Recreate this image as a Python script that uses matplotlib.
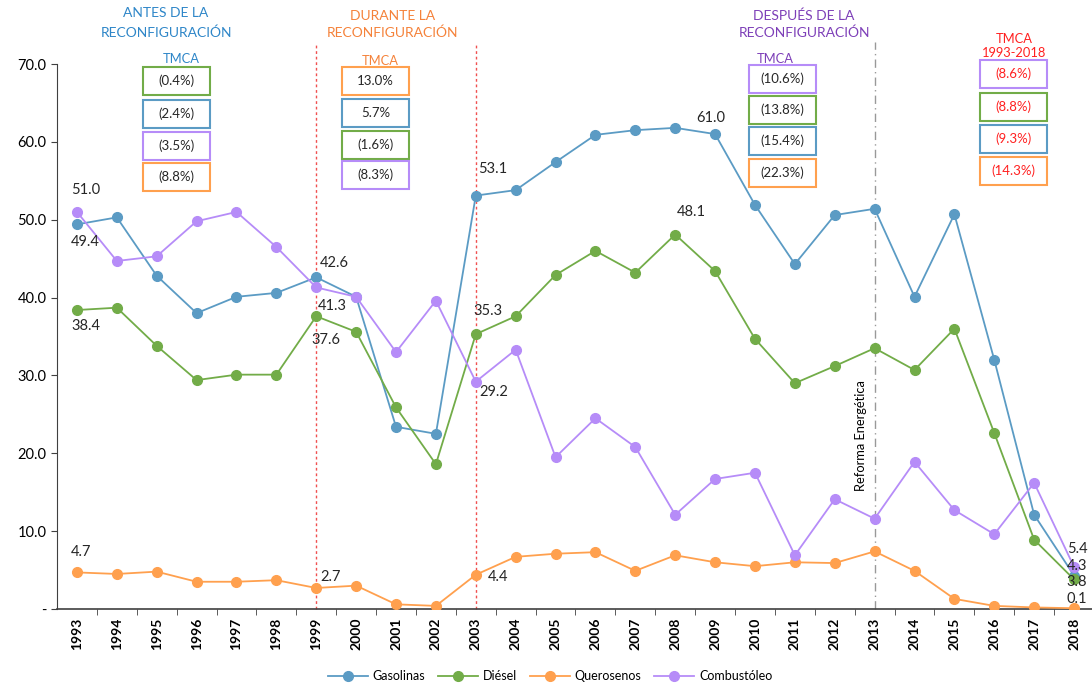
import matplotlib
matplotlib.use("Agg")
import matplotlib.pyplot as plt
from matplotlib.patches import Rectangle

plt.rcParams['font.family'] = ['Lato', 'DejaVu Sans']

years = list(range(1993, 2019))
gasolinas = [49.4, 50.3, 42.8, 38.0, 40.1, 40.6, 42.6, 40.1, 23.4, 22.5, 53.1, 53.8, 57.4,
             60.9, 61.5, 61.8, 61.0, 51.9, 44.3, 50.6, 51.4, 40.1, 50.7, 32.0, 12.1, 4.3]
diesel = [38.4, 38.7, 33.8, 29.4, 30.1, 30.1, 37.6, 35.6, 25.9, 18.6, 35.3, 37.6, 42.9,
          46.0, 43.2, 48.1, 43.4, 34.7, 29.0, 31.2, 33.5, 30.7, 36.0, 22.6, 8.9, 3.8]
querosenos = [4.7, 4.5, 4.8, 3.5, 3.5, 3.7, 2.7, 3.0, 0.6, 0.4, 4.4, 6.7, 7.1,
              7.3, 4.9, 6.9, 6.0, 5.5, 6.0, 5.9, 7.4, 4.9, 1.3, 0.4, 0.2, 0.1]
combustoleo = [51.0, 44.7, 45.3, 49.8, 51.0, 46.5, 41.3, 40.1, 33.0, 39.6, 29.2, 33.3, 19.5,
               24.5, 20.8, 12.1, 16.7, 17.5, 6.9, 14.1, 11.6, 18.9, 12.7, 9.6, 16.2, 5.4]

series_names = ["Gasolinas", "Diésel", "Querosenos", "Combustóleo"]
colors = {"Gasolinas": "#5B9BC4", "Diésel": "#72AC48", "Querosenos": "#FFA04E", "Combustóleo": "#B68CF8"}

# TMCA boxes: (label, series) top-to-bottom
tmca_antes = [("(0.4%)", "Diésel"), ("(2.4%)", "Gasolinas"), ("(3.5%)", "Combustóleo"), ("(8.8%)", "Querosenos")]
tmca_durante = [("13.0%", "Querosenos"), ("5.7%", "Gasolinas"), ("(1.6%)", "Diésel"), ("(8.3%)", "Combustóleo")]
tmca_despues = [("(10.6%)", "Combustóleo"), ("(13.8%)", "Diésel"), ("(15.4%)", "Gasolinas"), ("(22.3%)", "Querosenos")]
tmca_total = [("(8.6%)", "Combustóleo"), ("(8.8%)", "Diésel"), ("(9.3%)", "Gasolinas"), ("(14.3%)", "Querosenos")]

W, H = 1092, 684
fig = plt.figure(figsize=(W / 100, H / 100), dpi=100)
ax = fig.add_axes([57 / W, 1 - 609 / H, 1 - 57 / W, (609 - 64) / H])

data = {"Gasolinas": gasolinas, "Diésel": diesel, "Querosenos": querosenos, "Combustóleo": combustoleo}
for name in series_names:
    ax.plot(years, data[name], color=colors[name], marker='o', markersize=7, lw=1.3,
            label=name, zorder=3)

ax.set_xlim(1992.5, 2018.45)
ax.set_ylim(0, 70)
ax.set_yticks(range(0, 71, 10))
ax.set_yticklabels(['-'] + [f"{v:.1f}" for v in range(10, 71, 10)], fontsize=10.5)
ax.set_xticks(years)
ax.set_xticklabels([str(y) for y in years], rotation=90, fontsize=10, fontweight='bold')
ax.set_xticks([y + 0.5 for y in years[:-1]], minor=True)
ax.tick_params(axis='x', which='major', length=0, pad=6)
ax.tick_params(axis='x', which='minor', length=4, color='#404040')
ax.tick_params(axis='y', length=4, color='#404040')
for s in ['top', 'right']:
    ax.spines[s].set_visible(False)
ax.spines['left'].set_color('#404040')
ax.spines['bottom'].set_color('#404040')
ax.spines['bottom'].set_linewidth(1.2)

# vertical separators
for yr in (1999, 2003):
    ax.plot([yr, yr], [0, 72.5], ls=(0, (2, 2)), color='#F05050', lw=1, clip_on=False, zorder=2)
ax.plot([2013, 2013], [0, 72.8], ls=(0, (6, 3, 1, 3)), color='#999999', lw=1, clip_on=False, zorder=2)
ax.text(2012.65, 22.3, "Reforma Energética", rotation=90, ha='center', va='center', fontsize=9.3)

# data labels
def lab(x, y, t, dx=0.0, dy=0.0, ha='left'):
    ax.text(x + dx, y + dy, t, fontsize=10.5, ha=ha, va='center', color='#262626', zorder=4,
            clip_on=False)

lab(1993, combustoleo[0], "51.0", dx=-0.15, dy=2.8)
lab(1993, gasolinas[0], "49.4", dx=-0.15, dy=-2.2)
lab(1993, diesel[0], "38.4", dx=-0.15, dy=-2.0)
lab(1993, querosenos[0], "4.7", dx=-0.15, dy=2.6)
lab(1999, gasolinas[6], "42.6", dx=0.1, dy=1.8)
lab(1999, combustoleo[6], "41.3", dx=0.03, dy=-2.4)
lab(1999, diesel[6], "37.6", dx=-0.12, dy=-3.1)
lab(1999, querosenos[6], "2.7", dx=0.1, dy=1.4)
lab(2003, gasolinas[10], "53.1", dx=0.05, dy=3.4)
lab(2003, diesel[10], "35.3", dx=-0.05, dy=3.0)
lab(2003, combustoleo[10], "29.2", dx=0.1, dy=-1.3)
lab(2003, querosenos[10], "4.4", dx=0.3, dy=-0.3)
lab(2009, gasolinas[16], "61.0", dx=-0.47, dy=2.1)
lab(2008, diesel[15], "48.1", dx=0.05, dy=2.9)
lab(2018, combustoleo[25], "5.4", dx=-0.18, dy=2.3)
lab(2018, gasolinas[25], "4.3", dx=-0.18, dy=1.2)
lab(2018, diesel[25], "3.8", dx=-0.18, dy=-0.3)
lab(2018, querosenos[25], "0.1", dx=-0.18, dy=1.2)

# headings and TMCA boxes (figure pixel coords, y from top)
def ftext(x, y, t, color, size=10.0, **kw):
    fig.text(x / W, 1 - y / H, t, color=color, fontsize=size, ha='center', va='center', **kw)

def boxes(x0, tops, items, txtcolor='#262626', w=67, h=28):
    for (t, s), top in zip(items, tops):
        fig.patches.append(Rectangle((x0 / W, 1 - (top + h) / H), w / W, h / H,
                                     transform=fig.transFigure, fill=True, facecolor='white',
                                     edgecolor=colors[s], lw=1.5, zorder=5))
        fig.text((x0 + w / 2) / W, 1 - (top + h / 2) / H, t, color=txtcolor, fontsize=9.5,
                 ha='center', va='center', zorder=6)

c_antes, c_dur, c_des, c_tot = '#2E86C8', '#F5823A', '#7D3FB8', '#FF2020'
ftext(166, 13, "ANTES DE LA", c_antes)
ftext(166, 33, "RECONFIGURACIÓN", c_antes)
ftext(181, 59, "TMCA", c_antes, size=9.3)
boxes(143, [67, 100, 132, 163], tmca_antes)

ftext(393, 16, "DURANTE LA", c_dur)
ftext(393, 33, "RECONFIGURACIÓN", c_dur)
ftext(380, 61, "TMCA", c_dur, size=9.3)
boxes(342, [67, 99, 131, 161], tmca_durante)

ftext(804, 16, "DESPUÉS DE LA", c_des)
ftext(804, 33, "RECONFIGURACIÓN", c_des)
ftext(775, 59, "TMCA", c_des, size=9.3)
boxes(749, [65, 96, 127, 159], tmca_despues)

ftext(1014, 39, "TMCA", c_tot, size=9.3)
ftext(1014, 53, "1993-2018", c_tot, size=9.3)
boxes(980, [60, 93, 125, 157], tmca_total, txtcolor=c_tot)

fig.legend(loc='center', bbox_to_anchor=(550 / W, 1 - 676 / H), ncol=4, frameon=False,
           handlelength=3.2, columnspacing=1.0, handletextpad=0.4,
           prop={'size': 9})

fig.savefig("out.png", dpi=100)
